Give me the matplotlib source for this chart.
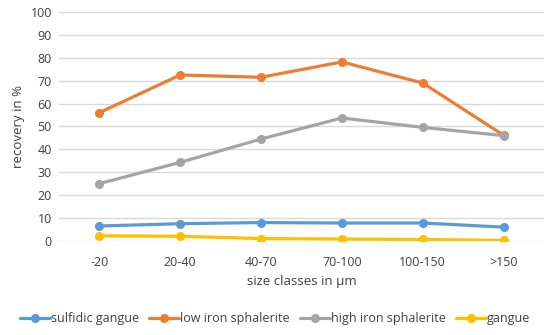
import matplotlib.pyplot as plt
import numpy as np

categories = ["-20", "20-40", "40-70", "70-100", "100-150", ">150"]
sulfidic_gangue = [6.5, 7.5, 8.0, 7.8, 7.8, 6.0]
low_iron_sphalerite = [56.0, 72.5, 71.5, 78.2, 69.0, 46.2]
high_iron_sphalerite = [25.0, 34.3, 44.5, 53.7, 49.6, 46.0]
gangue = [2.2, 2.0, 1.0, 0.8, 0.6, 0.2]

series = [
    ("sulfidic gangue", sulfidic_gangue, "#5B9BD5"),
    ("low iron sphalerite", low_iron_sphalerite, "#ED7D31"),
    ("high iron sphalerite", high_iron_sphalerite, "#A5A5A5"),
    ("gangue", gangue, "#FFC000"),
]

plt.rcParams["font.family"] = ["Open Sans", "DejaVu Sans"]
text_color = "#404040"

fig = plt.figure(figsize=(5.5, 3.35), dpi=100)
ax = fig.add_axes([0.107, 0.281, 0.882, 0.683])

x = np.arange(len(categories))
for label, values, color in series:
    ax.plot(x, values, color=color, linewidth=2.3, marker="o", markersize=5.5,
            label=label, solid_capstyle="round")

ax.set_xlim(-0.5, len(categories) - 0.5)
ax.set_ylim(0, 100)
ax.set_yticks(range(0, 101, 10))
ax.set_xticks(x)
ax.set_xticklabels(categories)
ax.grid(axis="y", color="#D9D9D9", linewidth=1.0)
ax.set_axisbelow(True)
for s in ax.spines.values():
    s.set_visible(False)
ax.tick_params(axis="both", length=0, labelsize=9, colors=text_color, pad=5)
ax.tick_params(axis="x", pad=11)

ax.set_xlabel("size classes in µm", fontsize=9.5, color=text_color, labelpad=4)
ax.set_ylabel("recovery in %", fontsize=9.5, color=text_color, labelpad=4)

fig.legend(loc="lower center", bbox_to_anchor=(0.5, -0.005), ncol=4, frameon=False,
           fontsize=9, labelcolor=text_color, handlelength=2.4, handletextpad=0.1,
           columnspacing=0.8)

fig.savefig("out.png", dpi=100)
